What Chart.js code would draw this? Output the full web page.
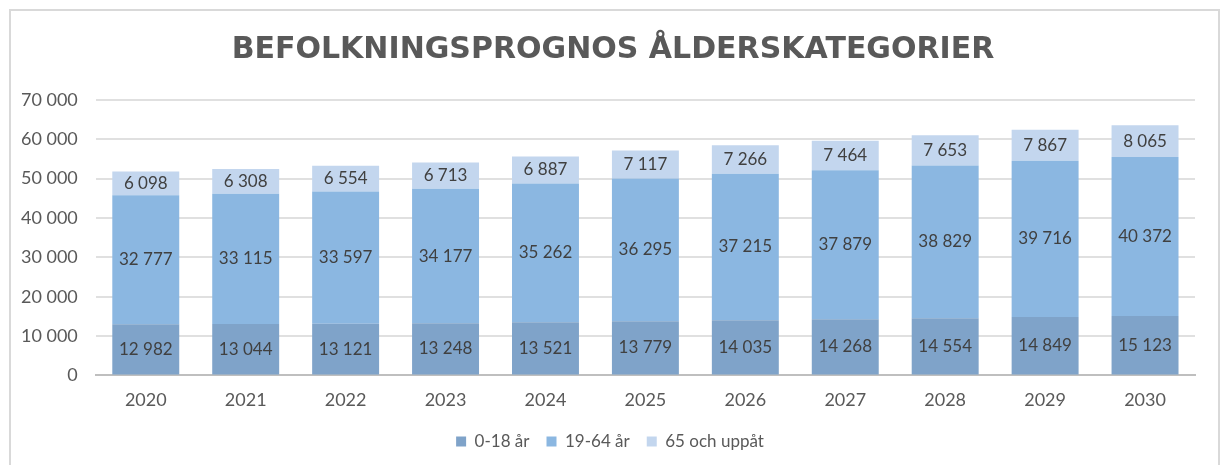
<!DOCTYPE html>
<html><head><meta charset="utf-8">
<script src="https://cdn.jsdelivr.net/npm/chart.js@4/dist/chart.umd.min.js"></script>
<style>
html,body{margin:0;padding:0;background:#fff;}
#wrap{position:relative;width:1221px;height:465px;overflow:hidden;}
#frame{position:absolute;left:9px;top:9px;width:1207px;height:480px;border:2px solid #d9d9d9;pointer-events:none;}
canvas{position:absolute;left:0;top:0;}
</style></head>
<body><div id="wrap"><canvas id="c" width="1221" height="465"></canvas><div id="frame"></div></div>
<script>
const years = ['2020','2021','2022','2023','2024','2025','2026','2027','2028','2029','2030'];
const age0to18 = [12982,13044,13121,13248,13521,13779,14035,14268,14554,14849,15123];
const age19to64 = [32777,33115,33597,34177,35262,36295,37215,37879,38829,39716,40372];
const age65plus = [6098,6308,6554,6713,6887,7117,7266,7464,7653,7867,8065];
const seriesNames = ['0-18 år','19-64 år','65 och uppåt'];
const seriesColors = ['#7fa3c9','#8bb7e1','#c3d6ee'];
const chartTitle = 'BEFOLKNINGSPROGNOS ÅLDERSKATEGORIER';

const fontFam = 'Lato, "Open Sans", sans-serif';
function fmt(v){return String(Math.round(v)).replace(/\B(?=(\d{3})+(?!\d))/g,' ');}

const labelPlugin = {
  id:'segLabels',
  afterLayout(chart){
    if (chart.titleBlock) { chart.titleBlock.left += 28; }
    if (chart.legend) { chart.legend.left += 22; }
  },
  afterDatasetsDraw(chart){
    const ctx = chart.ctx;
    ctx.save();
    ctx.font = '17px ' + fontFam;
    ctx.fillStyle = '#404040';
    ctx.textAlign = 'center';
    ctx.textBaseline = 'middle';
    chart.data.datasets.forEach((ds,i)=>{
      const meta = chart.getDatasetMeta(i);
      meta.data.forEach((bar,j)=>{
        const y = (bar.y + bar.base)/2;
        ctx.fillText(fmt(ds.data[j]), bar.x, y);
      });
    });
    ctx.restore();
  }
};

new Chart(document.getElementById('c'),{
  type:'bar',
  data:{
    labels: years,
    datasets:[
      {label:seriesNames[0],data:age0to18,backgroundColor:seriesColors[0]},
      {label:seriesNames[1],data:age19to64,backgroundColor:seriesColors[1]},
      {label:seriesNames[2],data:age65plus,backgroundColor:seriesColors[2]}
    ]
  },
  options:{
    responsive:false,
    animation:false,
    layout:{padding:{left:3,right:26,top:24,bottom:5}},
    datasets:{bar:{categoryPercentage:1,barPercentage:0.67}},
    plugins:{
      title:{display:true,text:chartTitle,color:'#595959',font:{family:'"DejaVu Sans", sans-serif',size:30,weight:'bold'},padding:{top:8,bottom:32}},
      legend:{position:'bottom',labels:{color:'#595959',font:{family:fontFam,size:17},boxWidth:10,boxHeight:10,padding:17}},
      tooltip:{enabled:false}
    },
    scales:{
      x:{stacked:true,grid:{display:false,drawTicks:false},border:{color:'#bfbfbf',width:2},
         afterFit(scale){ scale.height -= 9; },
         ticks:{color:'#595959',font:{family:fontFam,size:18},padding:14}},
      y:{stacked:true,min:0,max:70000,
         grid:{color:'#e0e0e0',lineWidth:2,drawTicks:false},border:{display:false},
         ticks:{stepSize:10000,color:'#595959',font:{family:fontFam,size:18},padding:18,callback:v=>fmt(v)}}
    }
  },
  plugins:[labelPlugin]
});
</script></body></html>
